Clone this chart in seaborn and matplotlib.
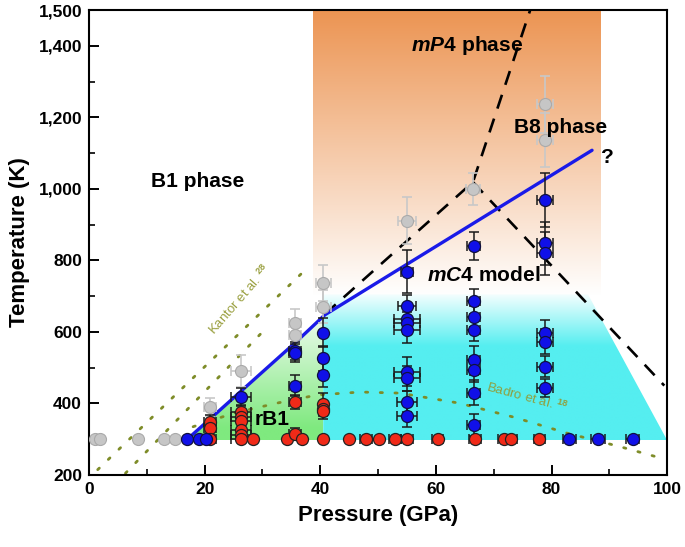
import numpy as np
import pandas as pd
import matplotlib
matplotlib.use("Agg")
import matplotlib.pyplot as plt
import seaborn as sns
from matplotlib.patches import Polygon
from matplotlib.colors import to_rgb
from matplotlib.ticker import FixedLocator, FuncFormatter

# ---------------- data ----------------
gray_P = [1.0, 1.9, 8.5, 12.9, 14.9, 20.9, 26.3, 35.6, 35.6, 40.5, 40.5, 55.0, 66.4, 78.9, 78.9]
gray_T = [300, 300, 300, 300, 300, 391, 491, 624, 591, 736, 671, 911, 999, 1237, 1137]
gray_Perr = [0, 0, 0, 0, 0, 1.0, 1.7, 1.0, 1.0, 1.3, 1.3, 1.6, 1.2, 1.4, 1.4]
gray_Terr = [0, 0, 0, 0, 0, 25, 45, 40, 40, 50, 45, 65, 45, 80, 75]

blue_P = [16.9, 19.1, 20.2, 26.3, 35.6, 35.6, 35.6, 40.5, 40.5, 40.5,
          55.0, 55.0, 55.0, 55.0, 55.0, 55.0, 55.0, 55.0, 55.0,
          66.5, 66.5, 66.5, 66.5, 66.5, 66.5, 66.5, 66.5,
          78.9, 78.9, 78.9, 78.9, 78.9, 78.9, 78.9,
          83.1, 88.1, 94.0]
blue_T = [300, 300, 300, 418, 547, 542, 450, 598, 526, 481,
          768, 672, 636, 625, 605, 489, 470, 405, 365,
          840, 686, 643, 605, 521, 495, 430, 340,
          969, 848, 820, 598, 573, 503, 444,
          300, 300, 300]
blue_Perr = [0, 0, 0, 1.7, 1.0, 1.0, 1.0, 0, 0, 0,
             1.0, 1.5, 2.2, 2.2, 2.2, 2.2, 2.2, 1.8, 1.8,
             1.1, 1.1, 1.1, 1.1, 1.1, 1.1, 1.1, 1.1,
             1.4, 1.4, 1.4, 1.4, 1.4, 1.4, 1.4,
             1.2, 1.2, 1.2]
blue_Terr = [0, 0, 0, 25, 25, 25, 30, 40, 35, 35,
             60, 30, 30, 30, 35, 40, 35, 30, 30,
             40, 35, 30, 30, 40, 35, 35, 30,
             75, 60, 60, 35, 35, 30, 25,
             0, 0, 0]

red_P = [20.9, 20.9, 20.9, 26.3, 26.3, 26.3, 26.3, 26.3, 26.3, 28.3,
         34.2, 35.6, 35.6, 36.8, 40.5, 40.5, 40.5, 40.5,
         45.0, 47.9, 50.2, 52.9, 55.0, 60.3, 66.8, 71.7, 73.0, 77.9]
red_T = [347, 332, 300, 377, 363, 350, 326, 312, 300, 300,
         300, 405, 316, 300, 398, 385, 378, 300,
         300, 300, 300, 300, 300, 300, 300, 300, 300, 300]
red_Perr = [1.0, 1.0, 1.0, 1.7, 1.7, 1.7, 1.7, 1.7, 1.7, 0,
            0, 1.0, 1.0, 0, 0, 0, 0, 0,
            0, 1.0, 0, 1.0, 1.0, 1.0, 1.0, 1.0, 1.0, 1.0]
red_Terr = [20, 20, 0, 20, 20, 20, 20, 15, 0, 0,
            0, 20, 15, 0, 30, 20, 20, 0,
            0, 0, 0, 0, 0, 0, 0, 0, 0, 0]

# phase boundary (blue solid)
blue_line_P = [17.0, 36.0, 40.8, 87.0]
blue_line_T = [300, 575, 648, 1108]
# dashed boundaries
dash1_P = [40.8, 66.4, 76.3]
dash1_T = [650, 1019, 1500]
dash2_P = [66.4, 99.5]
dash2_T = [1019, 450]
# dotted literature lines
kantor1_P = [1.5, 37.5]
kantor1_T = [215, 775]
kantor2_P = [6.3, 30.0]
kantor2_T = [205, 600]
badro_P = [18.0, 25.0, 32.5, 39.5, 47.0, 53.8, 64.0, 73.4, 82.7, 91.9, 99.0]
badro_T = [335, 373, 401, 424, 432, 429, 401, 362, 317, 279, 247]

# shaded regions
orange_P = [38.75, 88.4]
orange_T = [700, 1500]
cyan_poly_P = [40.5, 40.5, 86.3, 100.0]
cyan_poly_T = [297, 705, 705, 297]
green_P = [17.0, 40.5]
region_bottom_T = 297

labels = [("B1 phase", 18.7, 1022), ("B8 phase", 81.5, 1173), ("?", 89.6, 1089),
          ("rB1", 31.7, 354)]

# ---------------- style ----------------
sns.set_theme(style="ticks")
plt.rcParams['font.family'] = ['Liberation Sans', 'DejaVu Sans']
plt.rcParams['font.weight'] = 'bold'
plt.rcParams['text.color'] = 'black'
plt.rcParams['axes.labelcolor'] = 'black'
plt.rcParams['xtick.color'] = 'black'
plt.rcParams['ytick.color'] = 'black'
plt.rcParams['mathtext.fontset'] = 'custom'
plt.rcParams['mathtext.rm'] = 'Liberation Sans'
plt.rcParams['mathtext.bf'] = 'Liberation Sans:bold'
plt.rcParams['mathtext.it'] = 'Liberation Sans:italic'
plt.rcParams['mathtext.bfit'] = 'Liberation Sans:italic:bold'

fig = plt.figure(figsize=(6.85, 5.47), dpi=100)
ax = fig.add_axes([0.130, 0.1316, 0.844, 0.850])
ax.set_xlim(0, 100)
ax.set_ylim(200, 1500)


def vgrad(c_bottom, c_top, n=256):
    cb = np.array(to_rgb(c_bottom)); ct = np.array(to_rgb(c_top))
    t = np.linspace(0, 1, n)
    return (cb[None, :] * (1 - t[:, None]) + ct[None, :] * t[:, None])[:, None, :]

# orange gradient
img = vgrad('#FFFFFF', '#EC9452')
ax.imshow(img, extent=[orange_P[0], orange_P[1], orange_T[0], orange_T[1]], origin='lower',
          aspect='auto', zorder=0, interpolation='bilinear')

# cyan gradient (saturated below ~560 K)
n = 256
tt = np.linspace(cyan_poly_T[0], cyan_poly_T[1], n)
frac = np.clip((tt - 560) / (705 - 560), 0, 1)
cb = np.array(to_rgb('#55EEF0')); ct = np.array(to_rgb('#F4FEFE'))
cimg = (cb[None, :] * (1 - frac[:, None]) + ct[None, :] * frac[:, None])[:, None, :]
cpoly = Polygon(list(zip(cyan_poly_P, cyan_poly_T)), closed=True, transform=ax.transData,
                facecolor='none', edgecolor='none')
ax.add_patch(cpoly)
im = ax.imshow(cimg, extent=[min(cyan_poly_P), max(cyan_poly_P), min(cyan_poly_T), max(cyan_poly_T)],
               origin='lower', aspect='auto', zorder=0, interpolation='bilinear')
im.set_clip_path(cpoly)

# green region under the blue line
gx = np.linspace(green_P[0], green_P[1], 60)
gy = np.interp(gx, blue_line_P, blue_line_T)
gverts = [(green_P[0], region_bottom_T)] + list(zip(gx, gy)) + [(green_P[1], region_bottom_T)]
gpoly = Polygon(gverts, closed=True, transform=ax.transData, facecolor='none', edgecolor='none')
ax.add_patch(gpoly)
tt = np.linspace(region_bottom_T, 650, n)
frac = np.clip((tt - 330) / (650 - 330), 0, 1)
cb = np.array(to_rgb('#7FE97F')); ct = np.array(to_rgb('#F0FBF0'))
gimg = (cb[None, :] * (1 - frac[:, None]) + ct[None, :] * frac[:, None])[:, None, :]
im2 = ax.imshow(gimg, extent=[green_P[0], green_P[1], region_bottom_T, 650], origin='lower',
                aspect='auto', zorder=0, interpolation='bilinear')
im2.set_clip_path(gpoly)

ax.set_xlim(0, 100)
ax.set_ylim(200, 1500)

# dotted literature lines
olive = '#7E8C28'
for P, T in [(kantor1_P, kantor1_T), (kantor2_P, kantor2_T), (badro_P, badro_T)]:
    ax.plot(P, T, color=olive, lw=2.0, ls=(0, (0.8, 4.5)), dash_capstyle='round', zorder=1)

# dashed lines
for P, T in [(dash1_P, dash1_T), (dash2_P, dash2_T)]:
    sns.lineplot(x=P, y=T, sort=False, ax=ax, color='black', lw=1.9, zorder=2,
                 dashes=False, estimator=None)
    ax.lines[-1].set_dashes((5.5, 4))

# blue line
sns.lineplot(x=blue_line_P, y=blue_line_T, sort=False, estimator=None, ax=ax,
             color='#1A1AE8', lw=2.4, zorder=3)

# error bars
ax.errorbar(gray_P, gray_T, xerr=gray_Perr, yerr=gray_Terr, fmt='none', ecolor='#C8C8C8',
            elinewidth=1.2, capsize=3.5, capthick=1.2, zorder=3.5)
ax.errorbar(blue_P, blue_T, xerr=blue_Perr, yerr=blue_Terr, fmt='none', ecolor='#1A1A1A',
            elinewidth=1.1, capsize=3.5, capthick=1.1, zorder=4)
ax.errorbar(red_P, red_T, xerr=red_Perr, yerr=red_Terr, fmt='none', ecolor='#1A1A1A',
            elinewidth=1.1, capsize=3.5, capthick=1.1, zorder=4)

# markers
gdf = pd.DataFrame({'P': gray_P, 'T': gray_T})
bdf = pd.DataFrame({'P': blue_P, 'T': blue_T})
rdf = pd.DataFrame({'P': red_P, 'T': red_T})
sns.scatterplot(data=gdf, x='P', y='T', ax=ax, s=75, color='#C6C6C6', edgecolor='#AAAAAA',
                linewidth=0.8, zorder=5)
sns.scatterplot(data=rdf, x='P', y='T', ax=ax, s=75, color='#F02A18', edgecolor='#222222',
                linewidth=0.9, zorder=5)
sns.scatterplot(data=bdf, x='P', y='T', ax=ax, s=75, color='#1010E8', edgecolor='#101040',
                linewidth=0.9, zorder=5)

# text labels
for s, x, y in labels:
    ax.text(x, y, s, fontsize=15, fontweight='bold', ha='center', va='center', zorder=6,
            color='black')
ax.text(65.4, 1402, r'$\mathbfit{mP}\mathbf{4\ phase}$', fontsize=15, ha='center',
        va='center', zorder=6, color='black')
ax.text(68.2, 759, r'$\mathbfit{mC}\mathbf{4\ model}$', fontsize=15, ha='center',
        va='center', zorder=6, color='black')
ax.text(26.1, 689, r'Kantor et al. $^{\mathrm{28}}$', fontsize=9.5, fontweight='normal',
        color='#9AA040', rotation=49, ha='center', va='center', zorder=6)
ax.text(75.8, 418, r'Badro et al. $^{\mathrm{18}}$', fontsize=9.5, fontweight='normal',
        color='#8FA040', rotation=-15, ha='center', va='center', zorder=6)

# axes
ax.set_xlabel('Pressure (GPa)', fontsize=16, fontweight='bold', labelpad=6, color='black')
ax.set_ylabel('Temperature (K)', fontsize=16, fontweight='bold', labelpad=6, color='black')
ax.xaxis.set_major_locator(FixedLocator([0, 20, 40, 60, 80, 100]))
ax.xaxis.set_minor_locator(FixedLocator([10, 30, 50, 70, 90]))
ax.yaxis.set_major_locator(FixedLocator([200, 400, 600, 800, 1000, 1200, 1400, 1500]))
ax.yaxis.set_minor_locator(FixedLocator([300, 500, 700, 900, 1100, 1300]))
ax.yaxis.set_major_formatter(FuncFormatter(lambda v, p: f'{int(v):,}'))
ax.tick_params(which='major', direction='in', length=7, width=1.4, labelsize=12.5, pad=5,
               top=False, right=False, color='black', labelcolor='black')
ax.tick_params(which='minor', direction='in', length=4, width=1.2, top=False, right=False,
               color='black')
for lab in ax.get_xticklabels() + ax.get_yticklabels():
    lab.set_fontweight('bold')
for sp in ax.spines.values():
    sp.set_visible(True)
    sp.set_linewidth(1.5)
    sp.set_color('black')
ax.set_facecolor('white')

fig.savefig('out.png', dpi=100)
